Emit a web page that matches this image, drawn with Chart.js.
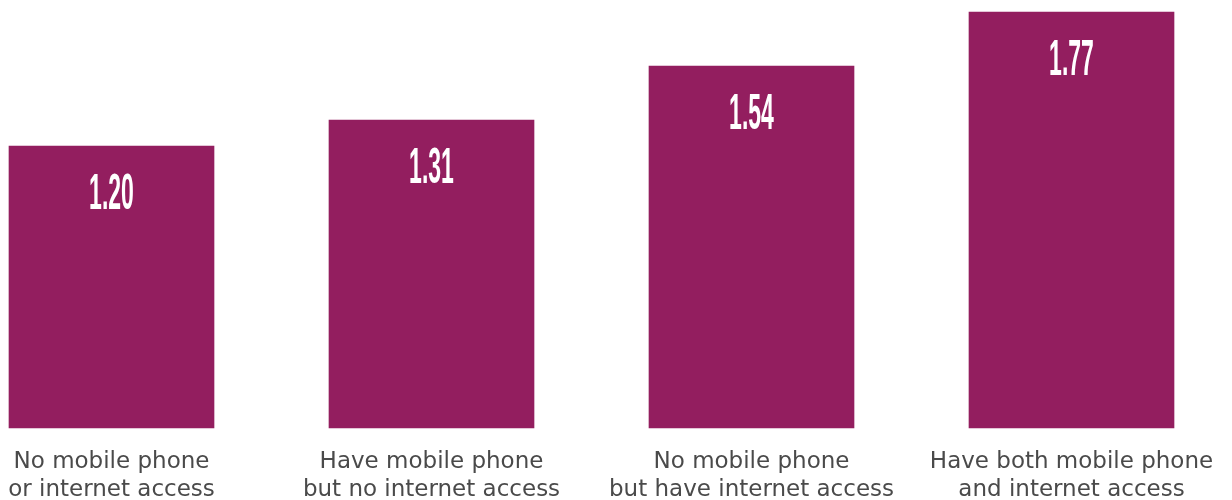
<!DOCTYPE html>
<html>
<head>
<meta charset="utf-8">
<script src="https://cdn.jsdelivr.net/npm/chart.js@4.4.0/dist/chart.umd.min.js"></script>
<style>
  html, body { margin: 0; padding: 0; background: #ffffff; }
  #wrap { width: 1232px; height: 500px; position: relative; }
</style>
</head>
<body>
<div id="wrap"><canvas id="c" width="1232" height="500"></canvas></div>
<script>
const categories = [
  ["No mobile phone", "or internet access"],
  ["Have mobile phone", "but no internet access"],
  ["No mobile phone", "but have internet access"],
  ["Have both mobile phone", "and internet access"]
];
const values = [1.20, 1.31, 1.54, 1.77];
const valueLabels = ["1.20", "1.31", "1.54", "1.77"];

const barColor = "#931E5F";
const textColor = "#4A4A4A";

const valueLabelPlugin = {
  id: "valueLabels",
  afterDatasetsDraw(chart) {
    const ctx = chart.ctx;
    const meta = chart.getDatasetMeta(0);
    ctx.save();
    ctx.fillStyle = "#ffffff";
    ctx.font = "bold 50px 'Liberation Sans', Arial, sans-serif";
    ctx.textAlign = "center";
    ctx.textBaseline = "alphabetic";
    meta.data.forEach((bar, i) => {
      ctx.save();
      ctx.translate(bar.x, bar.y + 63);
      ctx.scale(0.46, 1);
      ctx.fillText(valueLabels[i], 0, 0);
      ctx.restore();
    });
    ctx.restore();
  }
};

new Chart(document.getElementById("c"), {
  type: "bar",
  data: {
    labels: categories,
    datasets: [{
      data: values,
      backgroundColor: barColor,
      borderWidth: 0,
      barThickness: 205,
      clip: false
    }]
  },
  options: {
    responsive: false,
    animation: false,
    events: [],
    layout: { padding: { left: 111.5, right: 160.5, top: 12, bottom: 0 } },
    plugins: { legend: { display: false }, tooltip: { enabled: false } },
    scales: {
      x: {
        offset: false,
        grid: { display: false, drawTicks: false },
        border: { display: false },
        ticks: {
          color: textColor,
          font: { family: "'DejaVu Sans', sans-serif", size: 23, lineHeight: 28 / 23 },
          padding: 20,
          maxRotation: 0,
          autoSkip: false
        },
        afterFit(scale) {
          scale.height = 72;
          scale.paddingLeft = 0;
          scale.paddingRight = 0;
        }
      },
      y: {
        display: false,
        min: 0,
        max: 1.77
      }
    }
  },
  plugins: [valueLabelPlugin]
});
</script>
</body>
</html>
